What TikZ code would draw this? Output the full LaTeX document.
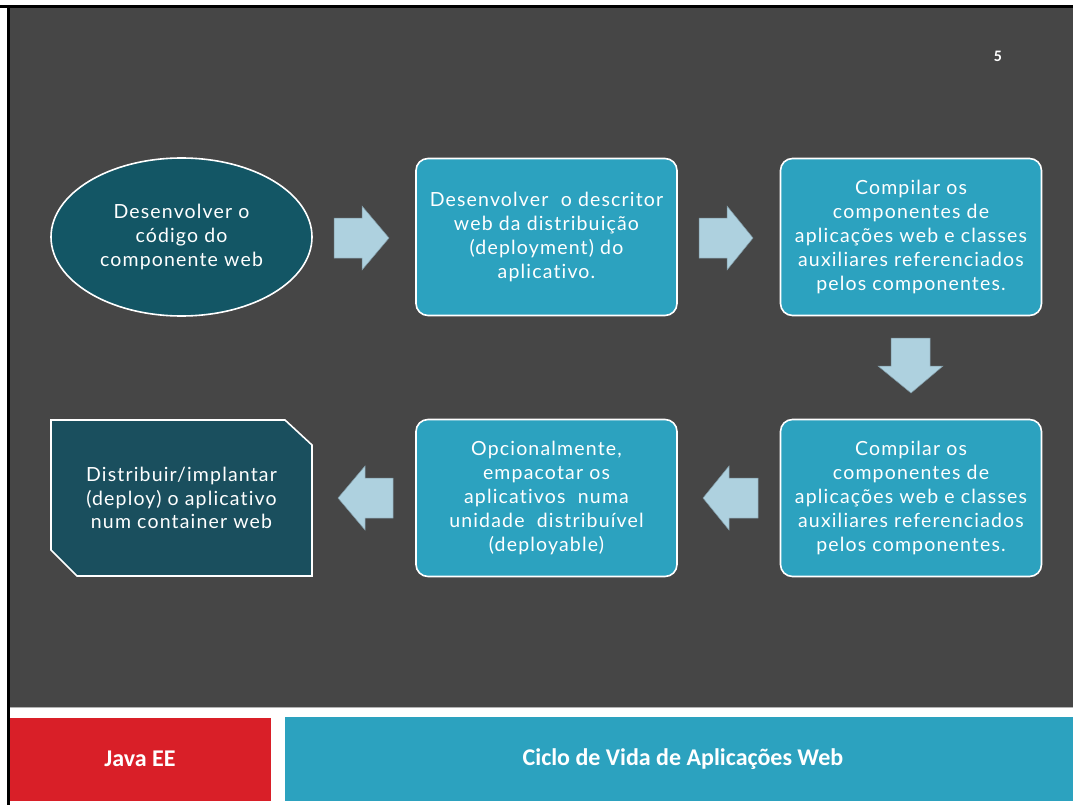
\documentclass[tikz,border=0pt]{standalone}
\usepackage{fontspec}
\setmainfont{Lato}[LetterSpace=6,Ligatures={NoCommon,NoRequired,NoContextual}]
\newfontfamily\barfont{Carlito}
\usetikzlibrary{shapes.geometric,calc}
\definecolor{bg}{HTML}{464646}
\definecolor{darkteal}{HTML}{135665}
\definecolor{darkteal2}{HTML}{1A4F5E}
\definecolor{boxteal}{HTML}{2CA2BF}
\definecolor{arrowblue}{HTML}{AED1DF}
\definecolor{arrowedge}{HTML}{7F98A3}
\definecolor{javared}{HTML}{D91F28}
\tikzset{
  txt/.style={text=white, align=center, font=\fontsize{19.5}{23.8}\selectfont, inner sep=0pt},
  ellbox/.style={ellipse, draw=white, line width=1.6pt, fill=darkteal, minimum width=261, minimum height=158, inner sep=0pt},
  stepbox/.style={rectangle, rounded corners=12pt, draw=white, line width=1.6pt, fill=boxteal, minimum width=261, minimum height=157, txt},
  blockarrow/.style={fill=arrowblue, draw=arrowedge, line width=0.5pt},
  bartxt/.style={text=white, font=\barfont\bfseries\fontsize{24}{28}\selectfont}
}
\begin{document}
\begin{tikzpicture}[x=1pt,y=-1pt]
\useasboundingbox (0,0) rectangle (1073,805);
\fill[white] (0,0) rectangle (1073,805);
% frame and background
\fill[black] (0,5) rectangle (1073,8);
\fill[black] (7,5) rectangle (10,805);
\fill[bg] (10,8) rectangle (1073,707);
\draw[gray!60, line width=0.8pt] (10,707.5) -- (1073,707.5);
% bottom bar
\fill[javared] (10,718) rectangle (271,801);
\fill[boxteal] (285,717) rectangle (1073,801);
\node[bartxt] (java) at (140,759) {Java EE};
\node[bartxt] (title) at (683,759) {Ciclo de Vida de Aplicações Web};
\node[text=white, font=\barfont\bfseries\fontsize{16}{18}\selectfont] (pg) at (998,56) {5};
% nodes
\node[ellbox] (n1) at (181.5,237) {};
\node[txt] (t1) at (n1.center) {Desenvolver o\\código do\\componente web};
\node[stepbox] (n2) at (546.5,237) {Desenvolver\ \ o descritor\\web da distribuição\\(deployment) do\\aplicativo.};
\node[stepbox] (n3) at (911,237) {Compilar os\\componentes de\\aplicações web e classes\\auxiliares referenciados\\pelos componentes.};
\node[stepbox] (n4) at (911,498) {Compilar os\\componentes de\\aplicações web e classes\\auxiliares referenciados\\pelos componentes.};
\node[stepbox] (n5) at (546.5,498) {Opcionalmente,\\empacotar os\\aplicativos\ \ numa\\unidade\ \ distribuível\\(deployable)};
\coordinate (n6nw) at (51,420);
\coordinate (n6se) at (312,576);
\draw[draw=white, line width=1.6pt, fill=darkteal2]
  (n6nw) -- ($(n6se |- n6nw)+(-27,0)$) -- ($(n6se |- n6nw)+(0,25)$) -- (n6se)
  -- ($(n6nw |- n6se)+(26,0)$) -- ($(n6nw |- n6se)+(0,-26)$) -- cycle;
\node[txt, minimum width=261, minimum height=156] (n6) at (181.5,498) {Distribuir/implantar\\(deploy) o aplicativo\\num container web};
% block arrows
\draw[blockarrow] (334,218) -- (362,218) -- (362,206) -- (389,238) -- (362,270) -- (362,258) -- (334,258) -- cycle;
\draw[blockarrow] (699,218) -- (727,218) -- (727,206) -- (753,238) -- (727,270) -- (727,258) -- (699,258) -- cycle;
\draw[blockarrow] (891,338) -- (930,338) -- (930,366) -- (943,366) -- (911,393) -- (878,366) -- (891,366) -- cycle;
\draw[blockarrow] (758,478) -- (729,478) -- (729,466) -- (703,498) -- (729,530) -- (729,518) -- (758,518) -- cycle;
\draw[blockarrow] (393,478) -- (365,478) -- (365,466) -- (338,498) -- (365,530) -- (365,518) -- (393,518) -- cycle;
\end{tikzpicture}
\end{document}
